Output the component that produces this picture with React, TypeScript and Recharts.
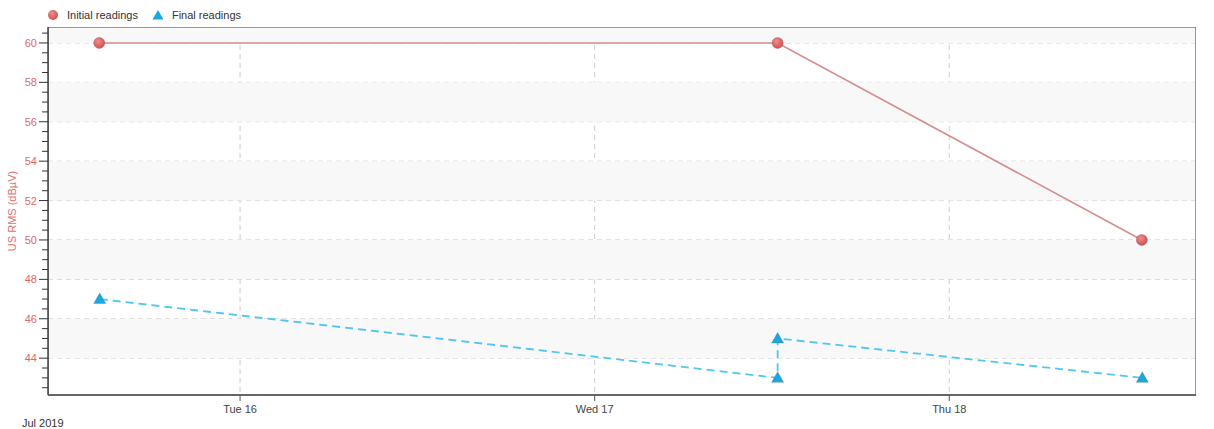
import React from 'react';
import {
  LineChart,
  Line,
  XAxis,
  YAxis,
  CartesianGrid,
  ReferenceArea,
} from 'recharts';

const FONT = '"Liberation Sans", Arial, sans-serif';

const INITIAL_TIMES = ['2019-07-15T14:28Z', '2019-07-17T12:23Z', '2019-07-18T13:02Z'];
const INITIAL_VALUES = [60, 60, 50];

const FINAL_TIMES = ['2019-07-15T14:30Z', '2019-07-17T12:23Z', '2019-07-17T12:23Z', '2019-07-18T13:04Z'];
const FINAL_VALUES = [47, 43, 45, 43];

const X_TICK_TIMES = ['2019-07-16T00:00Z', '2019-07-17T00:00Z', '2019-07-18T00:00Z'];
const X_TICK_LABELS = ['Tue 16', 'Wed 17', 'Thu 18'];
const X_DOMAIN = ['2019-07-15T11:00Z', '2019-07-18T16:42Z'];

const Y_MAJOR = [44, 46, 48, 50, 52, 54, 56, 58, 60];
const Y_DOMAIN: [number, number] = [42.13, 60.81];
const SHADED_BANDS: [number, number][] = [
  [44, 46],
  [48, 50],
  [52, 54],
  [56, 58],
  [60, 60.81],
];

const initialData = INITIAL_TIMES.map((t, i) => ({ t: Date.parse(t), v: INITIAL_VALUES[i] }));
const finalData = FINAL_TIMES.map((t, i) => ({ t: Date.parse(t), v: FINAL_VALUES[i] }));
const xTicks = X_TICK_TIMES.map(t => Date.parse(t));
const xDomain = X_DOMAIN.map(t => Date.parse(t));

// minor ticks every 0.5 between/around the majors
const yTicks: number[] = [];
for (let v = 42.5; v <= 60.5; v += 0.5) yTicks.push(v);

const RED = '#d24f50';
const BLUE = '#1aa6df';

function YTick(props: any) {
  const { x, y, payload } = props;
  const major = Y_MAJOR.includes(payload.value);
  return (
    <g>
      <line x1={x - (major ? 9 : 6)} x2={x} y1={y} y2={y} stroke="#333" strokeWidth={1} />
      {major && (
        <text x={x - 11} y={y} dy={4} textAnchor="end" fill="#e06a6a" fontSize={11} fontFamily={FONT}>
          {payload.value}
        </text>
      )}
    </g>
  );
}

function BallDot(props: any) {
  const { cx, cy, index } = props;
  return <circle key={'b' + index} cx={cx} cy={cy} r={5.5} fill="url(#redBall)" stroke="#a04040" strokeOpacity={0.35} strokeWidth={1} />;
}

function TriangleDot(props: any) {
  const { cx, cy, index } = props;
  const p = `M${cx},${cy - 6} L${cx + 6},${cy + 4.5} L${cx - 6},${cy + 4.5} Z`;
  return <path key={'t' + index} d={p} fill={BLUE} stroke="#5b7f8f" strokeOpacity={0.45} strokeWidth={0.8} />;
}

export default function App() {
  return (
    <div style={{ position: 'absolute', left: 0, top: 0, width: 1214, height: 429, background: '#fff', fontFamily: FONT }}>
      <div style={{ position: 'absolute', left: 47, top: 9, display: 'flex', alignItems: 'center', fontSize: 11, color: '#333', zIndex: 2 }}>
        <svg width={12} height={12}>
          <circle cx={6} cy={6} r={5} fill="url(#redBallLegend)" />
          <defs>
            <radialGradient id="redBallLegend" cx="40%" cy="35%" r="65%">
              <stop offset="0%" stopColor="#ec8f8f" />
              <stop offset="100%" stopColor={RED} />
            </radialGradient>
          </defs>
        </svg>
        <span style={{ marginLeft: 8 }}>Initial readings</span>
        <svg width={12} height={12} style={{ marginLeft: 14 }}>
          <path d="M6,1 L11.5,10.5 L0.5,10.5 Z" fill={BLUE} />
        </svg>
        <span style={{ marginLeft: 8 }}>Final readings</span>
      </div>
      <div style={{ position: 'absolute', left: 22, top: 417, fontSize: 11, color: '#333' }}>Jul 2019</div>
      <LineChart width={1214} height={429} margin={{ top: 27, right: 18, bottom: 4, left: 0 }}>
        <defs>
          <radialGradient id="redBall" cx="40%" cy="35%" r="65%">
            <stop offset="0%" stopColor="#ec8f8f" />
            <stop offset="100%" stopColor={RED} />
          </radialGradient>
        </defs>
        {SHADED_BANDS.map(([a, b]) => (
          <ReferenceArea key={a} y1={a} y2={b} x1={xDomain[0]} x2={xDomain[1]} fill="#f8f8f8" fillOpacity={1} stroke="none" ifOverflow="hidden" />
        ))}
        <CartesianGrid
          stroke="#cdcdcd"
          strokeDasharray="5 4"
          horizontalValues={Y_MAJOR}
          verticalValues={xTicks}
        />
        <XAxis
          type="number"
          dataKey="t"
          domain={xDomain}
          ticks={xTicks}
          allowDataOverflow
          height={30}
          tickSize={6}
          tickMargin={4}
          tickLine={{ stroke: '#555' }}
          axisLine={{ stroke: '#666', strokeWidth: 2 }}
          tick={{ fill: '#444', fontSize: 11, fontFamily: FONT }}
          tickFormatter={(v: number) => X_TICK_LABELS[xTicks.indexOf(v)] ?? ''}
        />
        <YAxis
          type="number"
          dataKey="v"
          domain={Y_DOMAIN}
          ticks={yTicks}
          interval={0}
          allowDataOverflow
          width={48}
          tickSize={0}
          tickMargin={0}
          tickLine={false}
          axisLine={{ stroke: '#444', strokeWidth: 1.5 }}
          tick={<YTick />}
          label={{
            content: () => (
              <text x={16} y={211} transform="rotate(-90,16,211)" textAnchor="middle" fill="#e07070" fontSize={11} fontFamily={FONT}>
                US RMS (dBµV)
              </text>
            ),
          }}
        />
        <ReferenceArea
          x1={xDomain[0]}
          x2={xDomain[1]}
          y1={Y_DOMAIN[0]}
          y2={Y_DOMAIN[1]}
          fill="none"
          stroke="#777"
          strokeWidth={1.5}
          ifOverflow="hidden"
        />
        <Line
          data={initialData}
          dataKey="v"
          type="linear"
          stroke="#d68d8d"
          strokeWidth={1.6}
          dot={<BallDot />}
          activeDot={false}
          isAnimationActive={false}
        />
        <Line
          data={finalData}
          dataKey="v"
          type="linear"
          stroke="#52c6f0"
          strokeWidth={1.8}
          strokeDasharray="8 5"
          dot={<TriangleDot />}
          activeDot={false}
          isAnimationActive={false}
        />
      </LineChart>
    </div>
  );
}
